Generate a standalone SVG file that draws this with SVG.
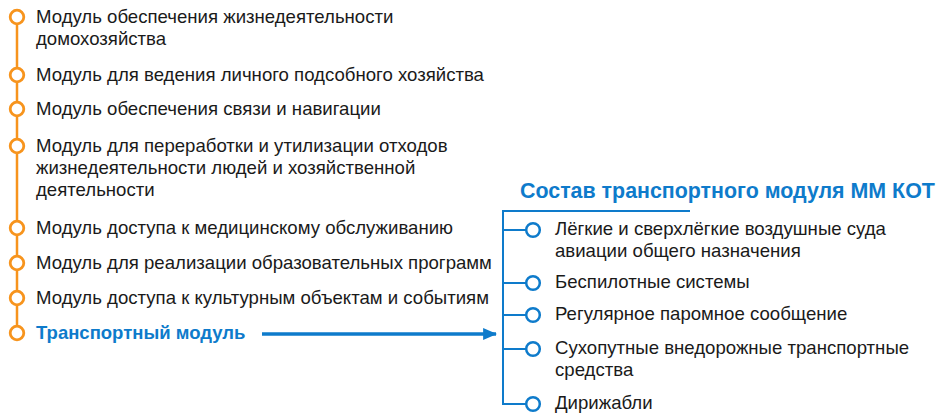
<svg xmlns="http://www.w3.org/2000/svg" width="952" height="420" viewBox="0 0 952 420">
<defs>
<style>
.t{font-family:"Liberation Sans",Arial,sans-serif;font-size:18.6px;fill:#1a1a1a}
.tb{font-family:"Liberation Sans",Arial,sans-serif;font-size:18.5px;font-weight:bold;fill:#0E7BCB}
.ti{font-family:"Liberation Sans",Arial,sans-serif;font-size:21.4px;font-weight:bold;fill:#0E7BCB}
.oc{fill:#fff;stroke:#F7941D;stroke-width:2.8}
.bc{fill:#fff;stroke:#0E7BCB;stroke-width:2.5}
.ol{stroke:#F7941D;stroke-width:2.5;fill:none}
.bl{stroke:#0E7BCB;stroke-width:2;fill:none}
</style>
<marker id="ah" viewBox="0 0 14 12" refX="13" refY="6" markerWidth="4" markerHeight="3.4" orient="auto" markerUnits="strokeWidth">
<path d="M0,0 L14,6 L0,12 z" fill="#0E7BCB"/>
</marker>
</defs>
<g id="connectors">
<line class="ol" x1="17" y1="17" x2="17" y2="333"/>
<line x1="262" y1="334" x2="496" y2="334" stroke="#0E7BCB" stroke-width="3.5" marker-end="url(#ah)"/>
<path class="bl" d="M690,211 H503 V404 H527"/>
<line class="bl" x1="503" y1="230" x2="527" y2="230"/>
<line class="bl" x1="503" y1="283" x2="527" y2="283"/>
<line class="bl" x1="503" y1="315" x2="527" y2="315"/>
<line class="bl" x1="503" y1="349" x2="527" y2="349"/>
</g>
<g id="n1"><circle class="oc" cx="17" cy="17" r="6.8"/><text class="t" x="36" y="23">Модуль обеспечения жизнедеятельности</text><text class="t" x="36" y="45">домохозяйства</text></g>
<g id="n2"><circle class="oc" cx="17" cy="75" r="6.8"/><text class="t" x="36" y="81">Модуль для ведения личного подсобного хозяйства</text></g>
<g id="n3"><circle class="oc" cx="17" cy="109" r="6.8"/><text class="t" x="36" y="115">Модуль обеспечения связи и навигации</text></g>
<g id="n4"><circle class="oc" cx="17" cy="146" r="6.8"/><text class="t" x="36" y="152">Модуль для переработки и утилизации отходов</text><text class="t" x="36" y="174">жизнедеятельности людей и хозяйственной</text><text class="t" x="36" y="196">деятельности</text></g>
<g id="n5"><circle class="oc" cx="17" cy="228" r="6.8"/><text class="t" x="36" y="234">Модуль доступа к медицинскому обслуживанию</text></g>
<g id="n6"><circle class="oc" cx="17" cy="263" r="6.8"/><text class="t" x="36" y="269">Модуль для реализации образовательных программ</text></g>
<g id="n7"><circle class="oc" cx="17" cy="298" r="6.8"/><text class="t" x="36" y="304">Модуль доступа к культурным объектам и событиям</text></g>
<g id="n8"><circle class="oc" cx="17" cy="333" r="6.8"/><text class="tb" x="36" y="339">Транспортный модуль</text></g>
<g id="title"><text class="ti" x="520" y="198">Состав транспортного модуля ММ КОТ</text></g>
<g id="r1"><circle class="bc" cx="533" cy="230" r="6.8"/><text class="t" x="555" y="235">Лёгкие и сверхлёгкие воздушные суда</text><text class="t" x="555" y="257">авиации общего назначения</text></g>
<g id="r2"><circle class="bc" cx="533" cy="283" r="6.8"/><text class="t" x="555" y="288">Беспилотные системы</text></g>
<g id="r3"><circle class="bc" cx="533" cy="315" r="6.8"/><text class="t" x="555" y="320">Регулярное паромное сообщение</text></g>
<g id="r4"><circle class="bc" cx="533" cy="349" r="6.8"/><text class="t" x="555" y="354">Сухопутные внедорожные транспортные</text><text class="t" x="555" y="376">средства</text></g>
<g id="r5"><circle class="bc" cx="533" cy="404" r="6.8"/><text class="t" x="555" y="409">Дирижабли</text></g>
</svg>
